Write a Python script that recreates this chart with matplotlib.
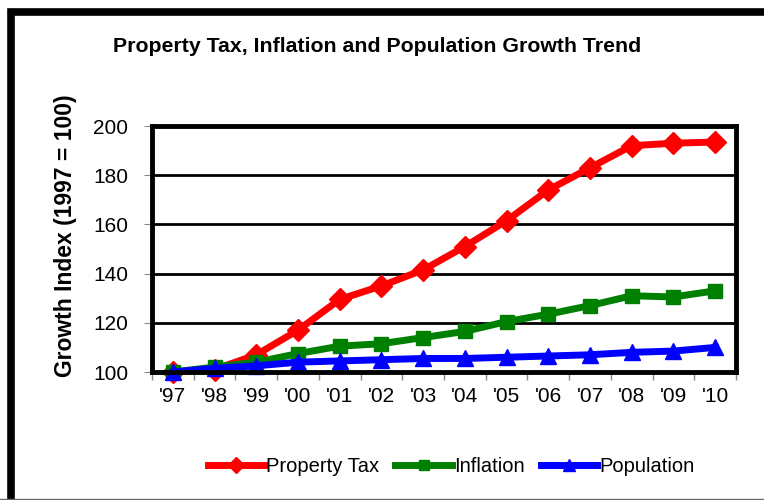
import matplotlib.pyplot as plt
from matplotlib.patches import Rectangle

plt.rcParams['font.family'] = ['Liberation Sans', 'DejaVu Sans']

# data
years = ["'97", "'98", "'99", "'00", "'01", "'02", "'03",
         "'04", "'05", "'06", "'07", "'08", "'09", "'10"]
property_tax = [100, 101, 107, 117, 129.5, 135, 141.5,
                151, 161.5, 174, 183, 192, 193, 193.5]
inflation = [100, 102, 104, 107.5, 110.5, 111.5, 114,
             116.5, 120.5, 123.5, 127, 131, 130.5, 133]
population = [100, 101.5, 102.5, 104, 104.5, 105, 105.5,
              105.5, 106, 106.5, 107, 108, 108.5, 110]


def main():
    fig = plt.figure(figsize=(7.64, 5.0), dpi=100)
    ax = fig.add_axes([152 / 764, 1 - 372 / 500, 584 / 764, 246 / 500])

    x = list(range(len(years)))
    ax.plot(x, property_tax, color='red', lw=5, marker='D', ms=11,
            label='Property Tax', zorder=3, clip_on=False)
    ax.plot(x, inflation, color='green', lw=5, marker='s', ms=10,
            label='Inflation', zorder=4, clip_on=False)
    ax.plot(x, population, color='blue', lw=5, marker='^', ms=12,
            label='Population', zorder=5, clip_on=False)

    ax.set_xlim(-0.5, len(years) - 0.5)
    ax.set_ylim(100, 200)
    ax.set_yticks(range(100, 201, 20))
    ax.set_xticks(x)
    ax.set_xticklabels(years)
    ax.set_xticks([i - 0.5 for i in range(len(years) + 1)], minor=True)
    ax.tick_params(axis='x', which='major', length=0, labelsize=15, pad=11)
    ax.tick_params(axis='x', which='minor', length=6, color='#888888', width=1)
    ax.tick_params(axis='y', length=6, color='#888888', labelsize=15, pad=11)

    ax.grid(axis='y', color='black', lw=2, zorder=1)
    for s in ax.spines.values():
        s.set_linewidth(3.5)
        s.set_zorder(6)

    ax.set_ylabel('Growth Index (1997 = 100)', fontsize=16.5,
                  fontweight='bold')
    ax.yaxis.set_label_coords(-0.128, 0.553)
    fig.text(377 / 764, 1 - 47 / 500,
             'Property Tax, Inflation and Population Growth Trend',
             ha='center', va='center', fontsize=15.3, fontweight='bold')

    fig.legend(loc='center', bbox_to_anchor=(451 / 764, 1 - 467 / 500),
               ncol=3, frameon=False, fontsize=14.5, handlelength=2.8,
               handletextpad=0.1, columnspacing=0.8, markerscale=0.75)

    # outer chart border
    fig.add_artist(Rectangle((10.5 / 764, -0.1), 1.2, 1 - 11.5 / 500 + 0.1,
                             transform=fig.transFigure, fill=False,
                             lw=5.5, edgecolor='black', clip_on=False))
    fig.add_artist(plt.Line2D([0, 1], [1.5 / 500, 1.5 / 500],
                              color='#666666', lw=1))

    fig.savefig('out.png', dpi=100)


if __name__ == '__main__':
    main()
